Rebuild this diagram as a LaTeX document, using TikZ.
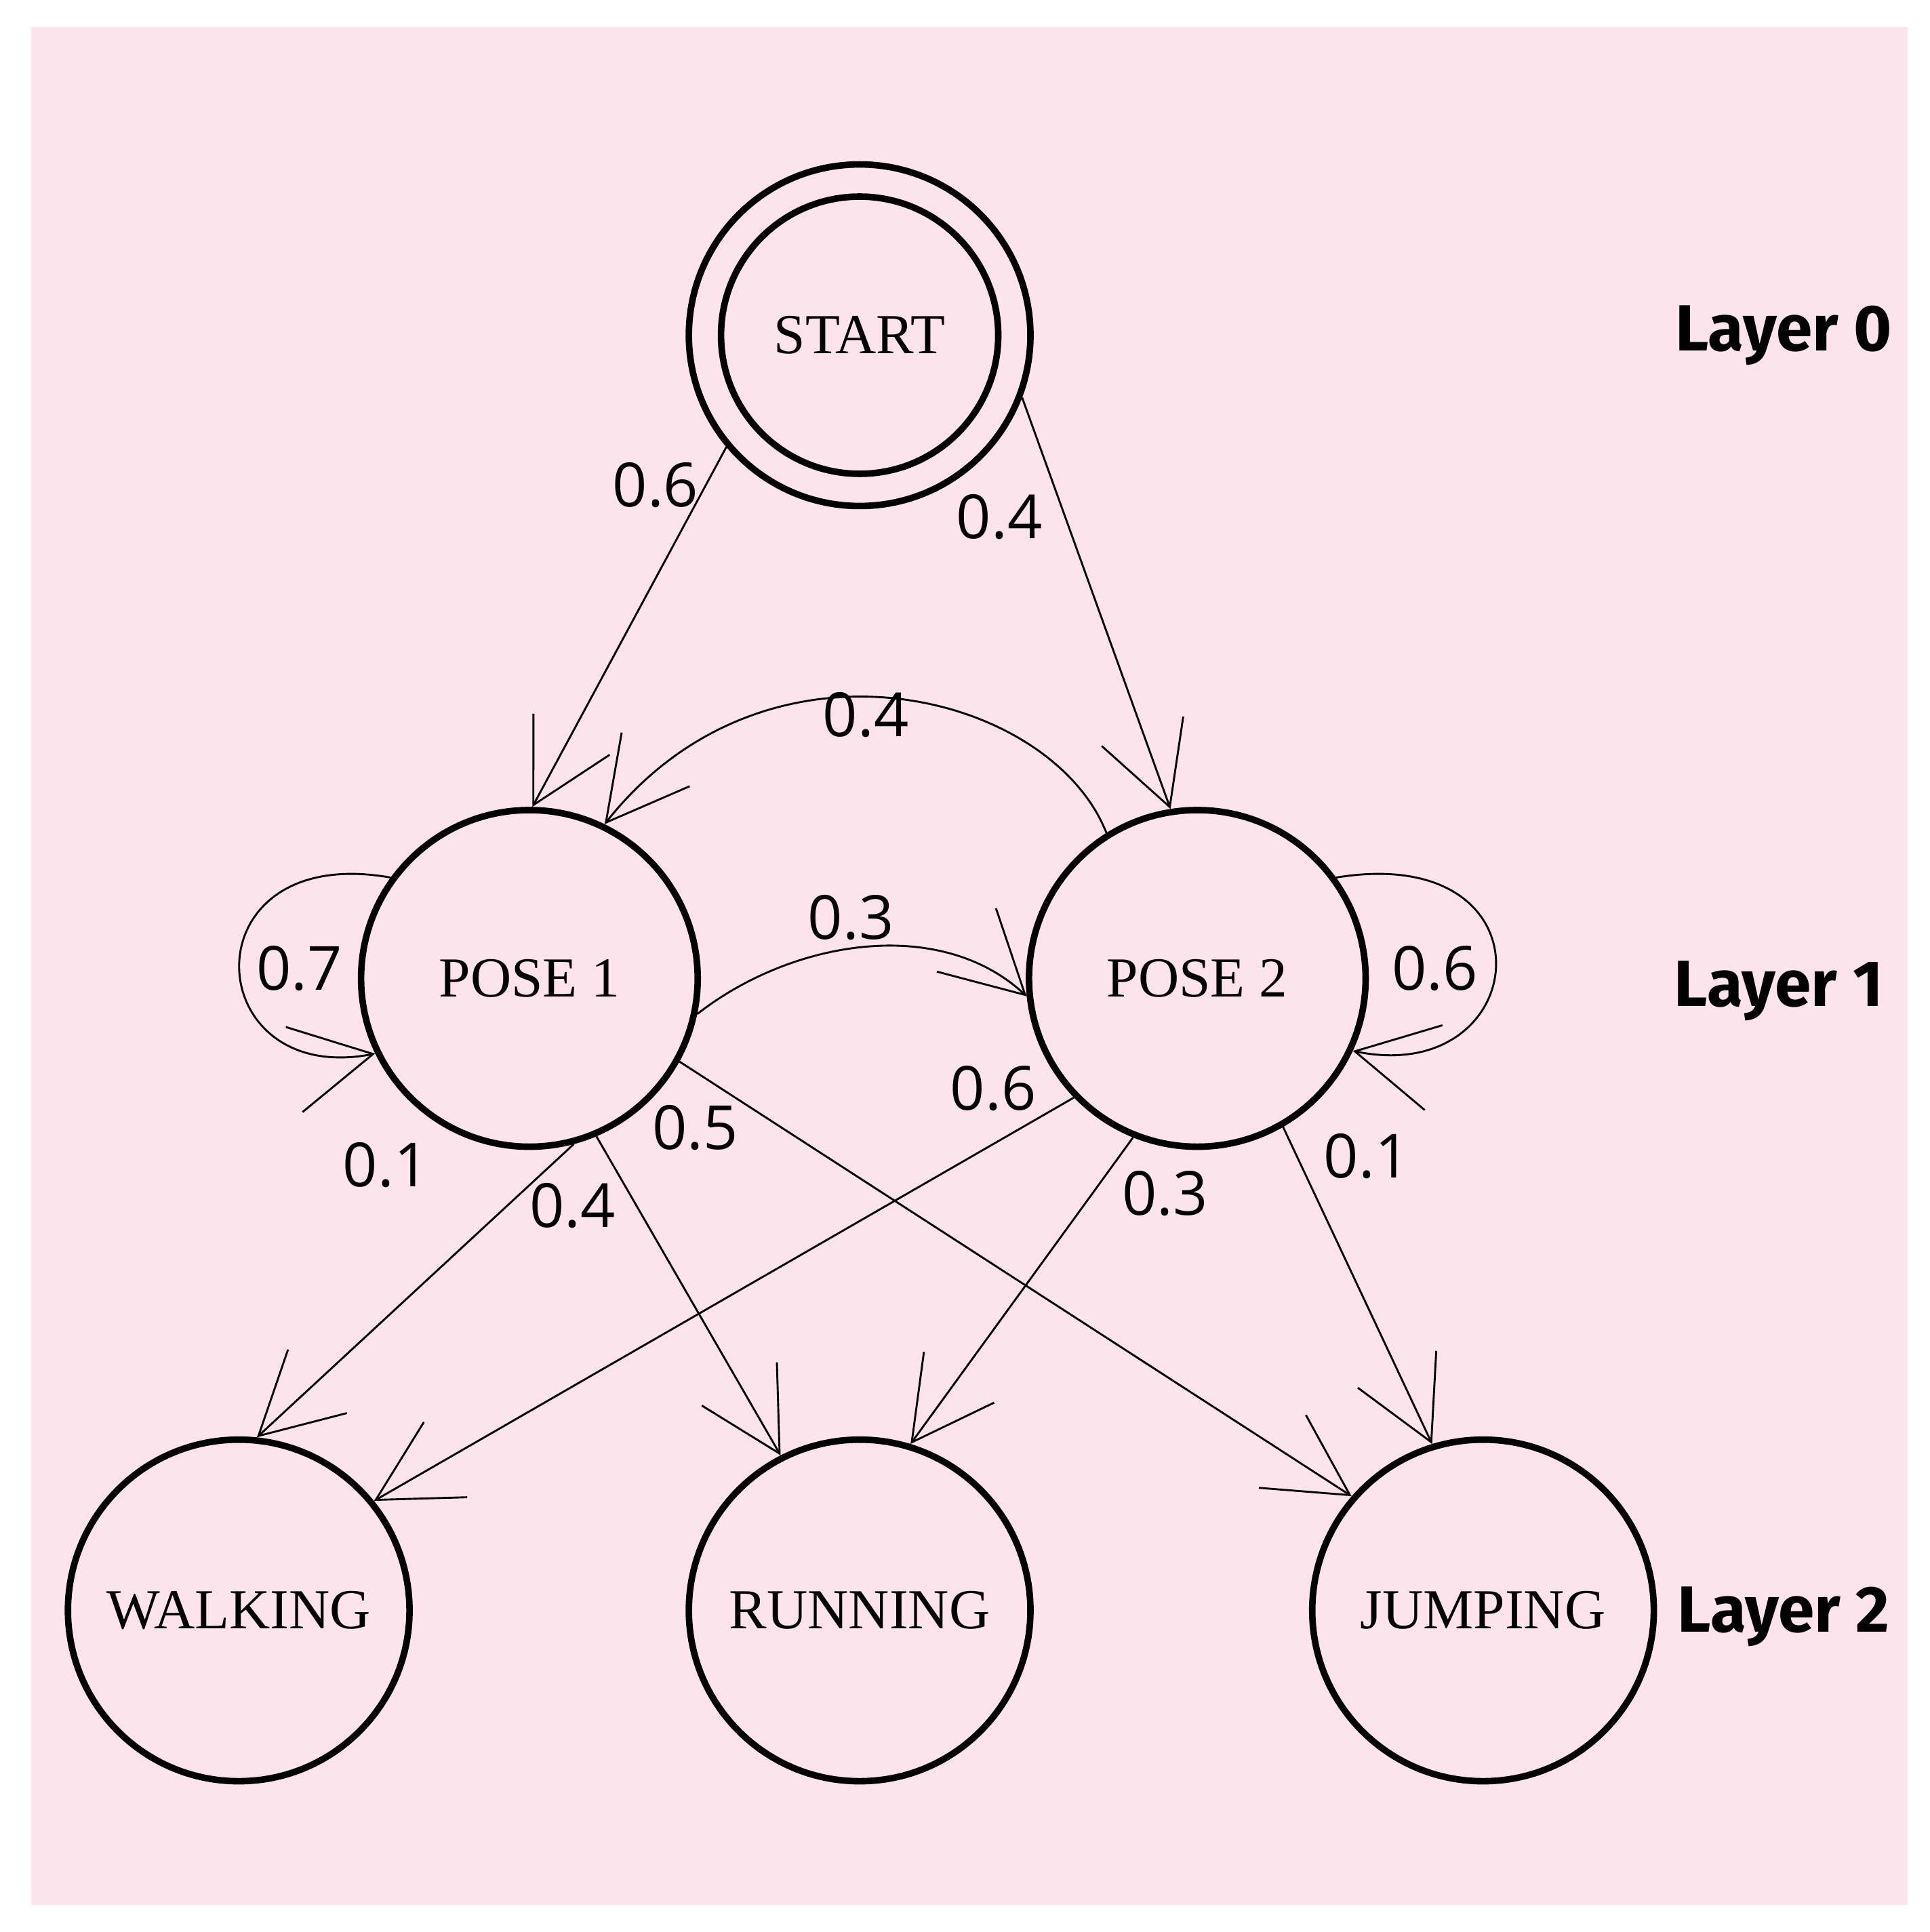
\documentclass[tikz,border=0pt]{standalone}
\usepackage{fontspec}
\setmainfont{Liberation Serif}
\newfontfamily\numf{Open Sans}
\newfontfamily\layf{Fira Sans}
\usetikzlibrary{arrows.meta}
\definecolor{bgpink}{RGB}{253,228,236}
\begin{document}
\begin{tikzpicture}[x=0.01cm,y=-0.01cm,
  st/.style={circle,draw,line width=1.5pt,minimum size=2.72cm,inner sep=0pt,font=\fontsize{13}{15}\selectfont},
  ed/.style={line width=0.45pt,-{Straight Barb[length=6.5mm,width=7mm,line width=0.45pt]}},
  lab/.style={font=\numf\fontsize{14}{16}\selectfont},
  lay/.style={font=\layf\bfseries\fontsize{15}{17}\selectfont}]
\useasboundingbox (0,0) rectangle (1560,1562);
\fill[white] (0,0) rectangle (1560,1562);
\fill[bgpink] (25,22) rectangle (1542,1540);
\node[st,minimum size=2.76cm] (S) at (695,271) {};
\node[st,minimum size=2.24cm] (Si) at (695,271) {START};
\node[st] (P1) at (428,791) {POSE 1};
\node[st] (P2) at (968,791) {POSE 2};
\node[st,minimum size=2.76cm] (W) at (193,1302) {WALKING};
\node[st,minimum size=2.76cm] (R) at (695,1302) {RUNNING};
\node[st,minimum size=2.76cm] (J) at (1199,1302) {JUMPING};
\node[lay] (L0) at (1442,271) {Layer 0};
\node[lay] (L1) at (1438,801) {Layer 1};
\node[lay] (L2) at (1442,1307) {Layer 2};
\draw[ed] (S.220) -- (P1.89);
\draw[ed] (S.-21) -- (P2.99);
\draw[ed] (P2.122) .. controls (850,560) and (620,500) .. (P1.64);
\draw[ed] (P1.-12) .. controls (640,760) and (760,740) .. (P2.186);
\draw[ed] (P1.144) .. controls (150,680) and (160,880) .. (P1.206);
\draw[ed] (P2.36) .. controls (1260,680) and (1240,880) .. (P2.-25);
\draw[ed] (P1.-75) -- (W.84);
\draw[ed] (P1.-67) -- (R.117);
\draw[ed] (P1.-29) -- (J.139);
\draw[ed] (P2.224) -- (W.39);
\draw[ed] (P2.248) -- (R.73);
\draw[ed] (P2.-60) -- (J.107);
\node[lab] (a1) at (530,392) {0.6};
\node[lab] (a2) at (808,418) {0.4};
\node[lab] (a3) at (700,578) {0.4};
\node[lab] (a4) at (688,742) {0.3};
\node[lab] (a5) at (242,783) {0.7};
\node[lab] (a6) at (1160,783) {0.6};
\node[lab] (a7) at (312,942) {0.1};
\node[lab] (a8) at (463,975) {0.4};
\node[lab] (a9) at (562,912) {0.5};
\node[lab] (a10) at (803,880) {0.6};
\node[lab] (a11) at (942,965) {0.3};
\node[lab] (a12) at (1105,935) {0.1};
\end{tikzpicture}
\end{document}
